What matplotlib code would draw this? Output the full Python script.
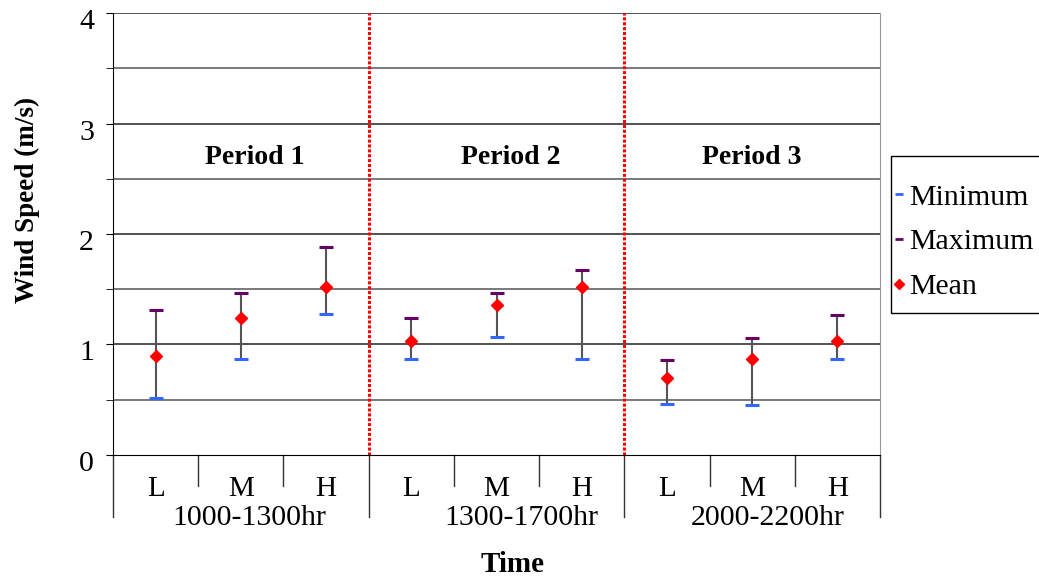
import matplotlib
matplotlib.use("Agg")
import matplotlib.pyplot as plt
from matplotlib.lines import Line2D
from matplotlib.patches import Rectangle

plt.rcParams['font.family'] = ['Liberation Serif', 'DejaVu Serif']

levels = ["L", "M", "H", "L", "M", "H", "L", "M", "H"]
groups = ["1000-1300hr", "1300-1700hr", "2000-2200hr"]
periods = ["Period 1", "Period 2", "Period 3"]
yticks = [0, 1, 2, 3, 4]
minimum = [0.52, 0.87, 1.28, 0.87, 1.07, 0.87, 0.46, 0.45, 0.87]
maximum = [1.31, 1.47, 1.88, 1.24, 1.47, 1.67, 0.86, 1.06, 1.27]
mean = [0.90, 1.24, 1.52, 1.03, 1.36, 1.52, 0.70, 0.87, 1.03]

fig = plt.figure(figsize=(10.39, 5.81), dpi=100)
ax = fig.add_axes([0.1088, 0.2169, 0.7382, 0.7607])

x = list(range(len(levels)))
ax.set_xlim(-0.5, len(levels) - 0.5)
ax.set_ylim(0, 4)

# grid lines
for yv in [0.5, 1, 1.5, 2, 2.5, 3, 3.5, 4]:
    ax.axhline(yv, color='#222222' if yv % 1 == 0 else '#555555', lw=1.1, zorder=1)

# vertical range lines
ax.vlines(x, minimum, maximum, color='#555555', lw=1.5, zorder=2)
ax.plot(x, minimum, ls='none', marker='_', ms=10, mew=2.2, color='#3366ff', zorder=3)
ax.plot(x, maximum, ls='none', marker='_', ms=10, mew=2.2, color='#660066', zorder=3)
ax.plot(x, mean, ls='none', marker='D', ms=6.5, color='#ff0000', mec='#ff0000', zorder=4)

# period separators
for sep in [2.5, 5.5]:
    ax.axvline(sep, color='#ff0000', lw=2.2, ls=(0, (1, 0.6)), zorder=2)

# period labels
period_pos = [0.185, 0.519, 0.833]
for p, px in zip(periods, period_pos):
    ax.annotate(p, xy=(px, 2.69), xycoords=('axes fraction', 'data'),
                ha='center', va='center', fontsize=20, fontweight='bold')

# spines
ax.spines['top'].set_visible(False)
ax.spines['right'].set_color('#999999')
ax.spines['left'].set_color('black')
ax.spines['bottom'].set_color('black')

# y ticks (labels drawn manually, slightly below the tick like the reference)
ax.set_yticks(yticks)
ax.set_yticklabels([])
ax.set_yticks([0.5, 1.5, 2.5, 3.5], minor=True)
ax.tick_params(axis='y', which='both', length=5, direction='out')
for yv in yticks:
    ax.annotate(str(yv), xy=(0, yv), xycoords=('axes fraction', 'data'),
                xytext=(-19, -9), textcoords='offset pixels',
                ha='right', va='center', fontsize=21.5)

fig.text(27 / 1039, 1 - 200 / 581, 'Wind Speed (m/s)', rotation=90, ha='center', va='center',
         fontsize=19.5, fontweight='bold')

# x axis category labels
ax.set_xticks([])
for i, lv in enumerate(levels):
    ax.annotate(lv, xy=(i, 0), xycoords=('data', 'axes fraction'),
                xytext=(0, -34), textcoords='offset pixels',
                ha='center', va='center', fontsize=21, annotation_clip=False)
group_pos = [0.178, 0.533, 0.853]
for name, gx in zip(groups, group_pos):
    ax.annotate(name, xy=(gx, 0), xycoords='axes fraction',
                xytext=(0, -63), textcoords='offset pixels',
                ha='center', va='center', fontsize=21.5, annotation_clip=False)

trans = ax.get_xaxis_transform()
ax_h_px = 0.7607 * 581
for b in [0.5, 1.5, 3.5, 4.5, 6.5, 7.5]:
    ax.add_line(Line2D([b, b], [0, -31 / ax_h_px], transform=trans, color='#333333', lw=1, clip_on=False))
for b in [-0.5, 2.5, 5.5, 8.5]:
    ax.add_line(Line2D([b, b], [0, -62 / ax_h_px], transform=trans, color='#333333', lw=1, clip_on=False))

fig.text(513 / 1039, 1 - 565 / 581, 'Time', ha='center', va='center',
         fontsize=21, fontweight='bold')

# legend box
fig.add_artist(Rectangle((891 / 1039, 1 - 313 / 581), 200 / 1039, 157 / 581,
                         transform=fig.transFigure, fill=False, edgecolor='black', lw=1.0))
handles = [
    Line2D([], [], ls='none', marker='_', ms=6, mew=2, color='#3366ff'),
    Line2D([], [], ls='none', marker='_', ms=6, mew=2, color='#660066'),
    Line2D([], [], ls='none', marker='D', ms=5, color='#ff0000'),
]
leg = fig.legend(handles, ['Minimum', 'Maximum', 'Mean'], loc='center left',
                 bbox_to_anchor=(893 / 1039, 1 - 242 / 581), fontsize=21.5, frameon=False,
                 handlelength=0.4, handletextpad=0.15, borderpad=0.0, labelspacing=0.6,
                 borderaxespad=0)

fig.savefig('out.png', dpi=100)
